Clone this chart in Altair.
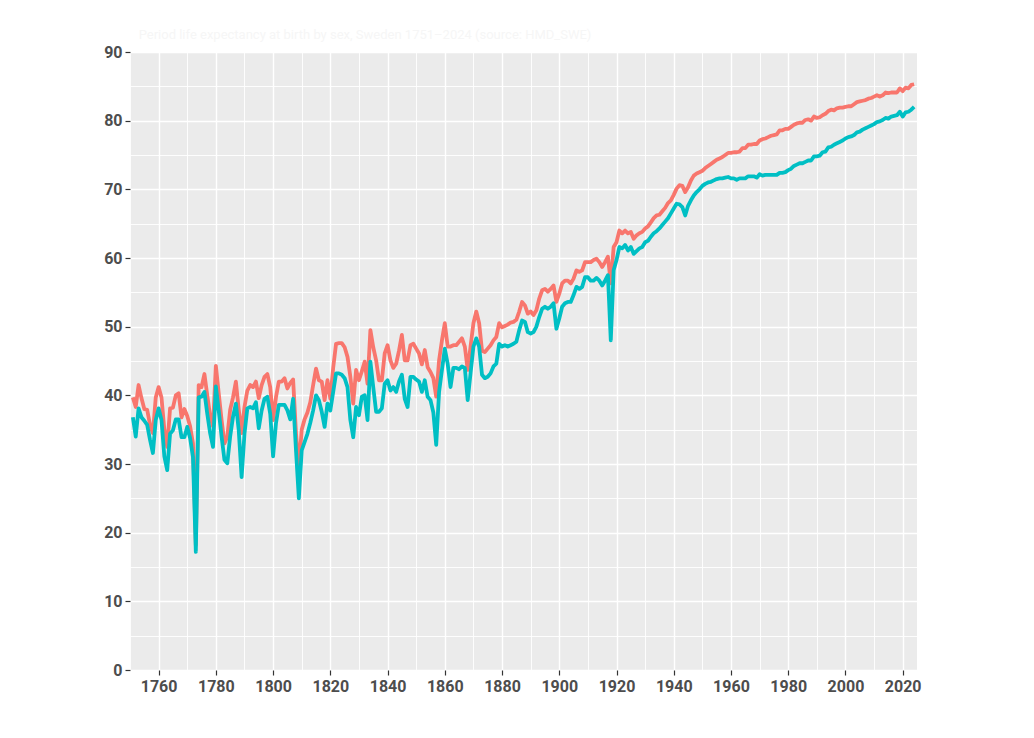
import altair as alt
import pandas as pd

years = list(range(1751, 2025))

female = [
    39.7, 38.3, 41.5, 39.6, 38.0, 37.9, 35.7, 34.5, 39.7, 41.2,
    39.7, 35.0, 32.5, 38.1, 38.2, 40.0, 40.3, 36.8, 38.0, 37.0,
    35.5, 33.0, 18.2, 41.5, 41.2, 43.1, 40.0, 37.0, 35.5, 44.3,
    40.3, 36.4, 33.0, 34.0, 37.9, 39.7, 42.0, 37.9, 34.5, 38.3,
    40.7, 41.5, 41.2, 42.0, 39.6, 41.5, 42.7, 43.1, 41.2, 36.4,
    39.7, 42.0, 42.0, 42.5, 41.0, 41.8, 42.3, 34.5, 29.4, 35.0,
    36.5, 37.5, 39.0, 41.5, 43.9, 42.2, 42.0, 39.3, 42.2, 39.5,
    44.0, 47.5, 47.6, 47.6, 47.0, 45.6, 42.7, 38.8, 43.7, 42.2,
    43.5, 44.9, 41.7, 49.5, 47.0, 45.1, 42.2, 42.2, 46.1, 47.3,
    45.1, 44.0, 44.6, 46.5, 48.8, 45.1, 45.1, 47.3, 47.5, 46.8,
    46.1, 44.5, 46.6, 44.1, 43.4, 42.5, 39.8, 45.1, 48.0, 50.5,
    47.1, 47.1, 47.3, 47.3, 47.8, 48.3, 47.1, 43.7, 47.1, 50.5,
    52.2, 50.5, 46.5, 46.3, 46.8, 47.3, 48.0, 48.5, 50.5, 49.9,
    50.1, 50.3, 50.6, 50.7, 51.0, 52.2, 53.6, 53.1, 51.9, 52.2,
    51.7, 52.4, 54.1, 55.3, 55.5, 55.1, 55.5, 56.0, 53.6, 54.8,
    56.3, 56.7, 56.7, 56.3, 57.0, 58.2, 58.0, 58.2, 59.4, 59.4,
    59.4, 59.7, 59.9, 59.4, 58.7, 59.4, 60.2, 56.3, 61.6, 62.3,
    64.0, 63.6, 64.0, 63.6, 63.8, 62.8, 63.3, 63.6, 63.8, 64.3,
    64.6, 65.2, 65.8, 66.2, 66.3, 66.8, 67.3, 68.0, 68.4, 69.2,
    70.1, 70.6, 70.5, 69.6, 70.3, 71.3, 72.0, 72.3, 72.5, 72.7,
    73.1, 73.4, 73.7, 74.0, 74.3, 74.5, 74.7, 75.0, 75.3, 75.3,
    75.4, 75.4, 75.5, 76.0, 76.0, 76.5, 76.5, 76.6, 76.6, 77.1,
    77.3, 77.4, 77.6, 77.8, 77.9, 78.0, 78.6, 78.6, 78.8, 78.8,
    79.1, 79.4, 79.6, 79.7, 79.7, 80.1, 80.2, 80.0, 80.6, 80.4,
    80.5, 80.8, 81.0, 81.4, 81.6, 81.5, 81.8, 81.9, 81.9, 82.0,
    82.1, 82.1, 82.4, 82.7, 82.8, 82.9, 83.0, 83.2, 83.3, 83.5,
    83.7, 83.5, 83.7, 84.1, 84.0, 84.1, 84.1, 84.1, 84.7, 84.3,
    84.8, 84.7, 85.2, 85.3,
]

male = [
    36.8, 34.0, 38.1, 36.8, 36.3, 35.7, 33.5, 31.6, 36.4, 38.1,
    36.4, 31.1, 29.1, 34.4, 34.9, 36.5, 36.5, 33.9, 33.9, 35.4,
    33.8, 31.0, 17.2, 39.7, 39.8, 40.5, 37.3, 34.5, 32.5, 41.3,
    37.8, 34.0, 30.6, 30.1, 34.0, 36.9, 38.8, 34.9, 28.1, 34.4,
    38.1, 38.3, 38.1, 39.0, 35.2, 37.8, 39.5, 39.8, 37.3, 31.1,
    35.9, 38.6, 38.6, 38.6, 37.8, 36.5, 39.5, 32.0, 25.0, 32.0,
    33.2, 34.4, 36.0, 37.8, 40.0, 39.3, 37.6, 35.4, 38.8, 37.8,
    40.5, 43.2, 43.2, 43.0, 42.5, 41.2, 36.4, 33.9, 38.3, 37.1,
    39.8, 40.0, 36.4, 44.9, 41.2, 37.6, 37.6, 38.1, 41.7, 42.2,
    40.7, 41.2, 40.5, 42.0, 43.0, 39.5, 38.3, 42.7, 42.7, 42.3,
    42.0, 40.5, 42.2, 39.8, 39.3, 37.5, 32.8, 40.5, 43.7, 46.8,
    44.6, 41.2, 44.0, 44.0, 43.8, 44.2, 44.0, 39.3, 43.2, 47.1,
    48.3, 47.1, 43.0, 42.5, 42.7, 43.2, 44.2, 44.6, 47.5, 47.1,
    47.3, 47.1, 47.3, 47.5, 47.8, 49.5, 50.9, 50.7, 49.2, 49.0,
    49.2, 50.0, 51.4, 52.6, 52.9, 52.6, 52.9, 53.4, 49.7, 51.2,
    52.9, 53.4, 53.6, 53.6, 54.6, 55.8, 55.5, 55.8, 57.2, 57.2,
    56.7, 56.7, 57.1, 56.7, 56.0, 56.7, 57.5, 48.0, 58.2, 59.7,
    61.6, 61.4, 61.9, 61.1, 61.6, 60.6, 61.0, 61.4, 61.6, 62.3,
    62.5, 63.1, 63.6, 63.9, 64.3, 64.8, 65.3, 65.8, 66.5, 67.2,
    67.9, 67.8, 67.4, 66.2, 67.6, 68.4, 69.1, 69.6, 70.0, 70.5,
    70.8, 71.0, 71.1, 71.3, 71.5, 71.6, 71.6, 71.7, 71.8, 71.6,
    71.6, 71.4, 71.6, 71.6, 71.6, 71.9, 71.9, 71.9, 71.7, 72.2,
    72.0, 72.1, 72.1, 72.1, 72.1, 72.1, 72.4, 72.4, 72.5, 72.8,
    73.0, 73.4, 73.6, 73.8, 73.8, 74.0, 74.2, 74.2, 74.8, 74.8,
    74.9, 75.4, 75.5, 76.1, 76.2, 76.5, 76.7, 76.9, 77.1, 77.4,
    77.6, 77.7, 77.9, 78.3, 78.4, 78.7, 78.9, 79.1, 79.3, 79.5,
    79.8, 79.9, 80.1, 80.4, 80.3, 80.6, 80.7, 80.8, 81.3, 80.6,
    81.2, 81.3, 81.6, 82.0,
]

sexes = ["Female", "Male"]
colors = ["#F8766D", "#00BFC4"]

x_ticks = list(range(1750, 2030, 10))
y_ticks = list(range(0, 95, 5))

df = pd.DataFrame({
    "year": years * 2,
    "value": female + male,
    "sex": [sexes[0]] * len(years) + [sexes[1]] * len(years),
})

x_axis = alt.Axis(
    values=x_ticks,
    title=None,
    labelExpr="datum.value % 20 == 0 ? datum.label : ''",
    tickColor={"condition": {"test": "datum.value % 20 == 0", "value": "#333333"}, "value": "transparent"},
    gridWidth={"condition": {"test": "datum.value % 20 == 0", "value": 1.4}, "value": 0.9},
    format="d",
)
y_axis = alt.Axis(
    values=y_ticks,
    title=None,
    labelExpr="datum.value % 10 == 0 ? datum.label : ''",
    tickColor={"condition": {"test": "datum.value % 10 == 0", "value": "#333333"}, "value": "transparent"},
    gridWidth={"condition": {"test": "datum.value % 10 == 0", "value": 1.4}, "value": 0.9},
)

chart = (
    alt.Chart(df)
    .mark_line(strokeWidth=3.8, strokeJoin="round")
    .encode(
        x=alt.X("year:Q", scale=alt.Scale(domain=[1750, 2025], nice=False, zero=False), axis=x_axis),
        y=alt.Y("value:Q", scale=alt.Scale(domain=[0, 90], nice=False), axis=y_axis),
        color=alt.Color("sex:N", scale=alt.Scale(domain=sexes, range=colors), legend=None),
        order=alt.Order("year:Q"),
    )
    .properties(
        width=787,
        height=618,
        autosize=alt.AutoSizeParams(type="none"),
        padding={"left": 122, "top": 44, "right": 100, "bottom": 50},
        background="white",
        title=alt.TitleParams(
            text="Period life expectancy at birth by sex, Sweden 1751–2024 (source: HMD_SWE)",
            anchor="start",
            color="#f6f6f6",
            fontSize=13,
            font="Roboto",
            fontWeight="normal",
            offset=2,
            dx=35,
        ),
    )
    .configure_view(fill="#EBEBEB", stroke=None)
    .configure_axis(
        domain=False,
        grid=True,
        gridColor="#FFFFFF",
        tickSize=5,
        tickWidth=1.2,
        labelColor="#4D4D4D",
        labelFont="Roboto",
        labelFontWeight="bold",
        labelFontSize=16,
        labelPadding=3,
    )
)

chart.save("out.html", embed_options={"renderer": "svg", "actions": False})
